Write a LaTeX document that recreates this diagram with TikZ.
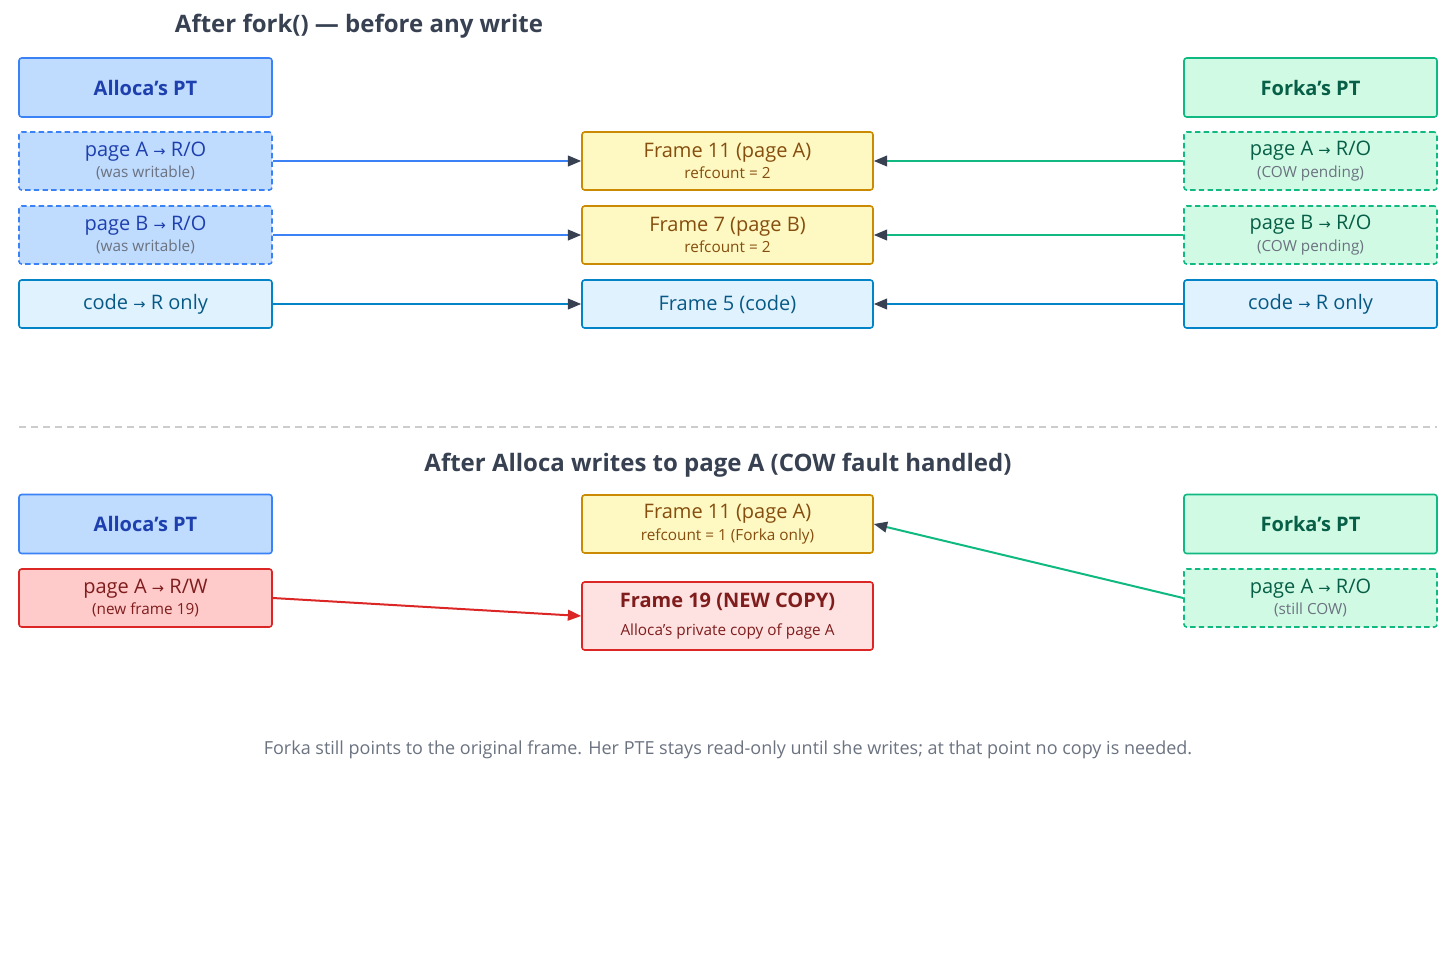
\documentclass[tikz,border=0pt]{standalone}
\usepackage{fontspec}
\setmainfont{Open Sans}
\newfontfamily\djv{DejaVu Sans}
\usetikzlibrary{arrows.meta}
\newcommand\smf{\fontsize{11.5}{13}\selectfont}
\newcommand\rar{{\djv\fontsize{11}{12}\selectfont →}}
\newcommand\ap{\char"27\relax}
\definecolor{bfill}{HTML}{BFDBFE}\definecolor{bdraw}{HTML}{3B82F6}\definecolor{btext}{HTML}{1E40AF}
\definecolor{cfill}{HTML}{E0F2FE}\definecolor{cdraw}{HTML}{0284C7}\definecolor{ctext}{HTML}{075985}
\definecolor{yfill}{HTML}{FEF9C3}\definecolor{ydraw}{HTML}{CA8A04}\definecolor{ytext}{HTML}{854D0E}
\definecolor{gfill}{HTML}{D1FAE5}\definecolor{gdraw}{HTML}{10B981}\definecolor{gtext}{HTML}{065F46}
\definecolor{rfill}{HTML}{FECACA}\definecolor{rfill2}{HTML}{FEE2E2}\definecolor{rdraw}{HTML}{DC2626}\definecolor{rtext}{HTML}{7F1D1D}
\definecolor{tip}{HTML}{374151}\definecolor{sub}{HTML}{6B7280}
\begin{document}
\begin{tikzpicture}[x=0.75pt,y=-0.75pt,
 box/.style={draw,rounded corners=2pt,line width=1.2pt,inner sep=0pt,align=center,minimum width=253*0.75pt},
 mid/.style={box,minimum width=291*0.75pt},
 hdr/.style={minimum height=59*0.75pt,font=\bfseries\fontsize{15}{18}\selectfont},
 two/.style={minimum height=58*0.75pt,font=\fontsize{15}{17}\selectfont},
 one/.style={minimum height=48*0.75pt,font=\fontsize{15}{18}\selectfont},
 bl/.style={fill=bfill,draw=bdraw,text=btext},
 cy/.style={fill=cfill,draw=cdraw,text=ctext},
 ye/.style={fill=yfill,draw=ydraw,text=ytext},
 gr/.style={fill=gfill,draw=gdraw,text=gtext},
 re/.style={fill=rfill,draw=rdraw,text=rtext},
 dsh/.style={dash pattern=on 4pt off 2.5pt},
 ar/.style={line width=1.5pt}]
\useasboundingbox (0,0) rectangle (1456,971);
\node[font=\bfseries\fontsize{18}{20}\selectfont,text=tip] (t1) at (359,26) {After fork() — before any write};
\node[box,hdr,bl] (aPT) at (145.5,87.5) {Alloca\ap s PT};
\node[box,two,bl,dsh] (aA) at (145.5,161) {page A \rar{} R/O\\[-1pt]{\smf\color{sub}(was writable)}};
\node[box,two,bl,dsh] (aB) at (145.5,235) {page B \rar{} R/O\\[-1pt]{\smf\color{sub}(was writable)}};
\node[box,one,cy] (aC) at (145.5,304) {code \rar{} R only};
\node[mid,two,ye] (f11) at (727.5,161) {Frame 11 (page A)\\[-1pt]{\smf refcount = 2}};
\node[mid,two,ye] (f7) at (727.5,235) {Frame 7 (page B)\\[-1pt]{\smf refcount = 2}};
\node[mid,one,cy] (f5) at (727.5,304) {Frame 5 (code)};
\node[box,hdr,gr] (fPT) at (1310.5,87.5) {Forka\ap s PT};
\node[box,two,gr,dsh] (fA) at (1310.5,161) {page A \rar{} R/O\\[-1pt]{\smf\color{sub}(COW pending)}};
\node[box,two,gr,dsh] (fB) at (1310.5,235) {page B \rar{} R/O\\[-1pt]{\smf\color{sub}(COW pending)}};
\node[box,one,cy] (fC) at (1310.5,304) {code \rar{} R only};
\draw[ar,draw=bdraw,-{Triangle[length=10pt,width=8pt,fill=tip,color=tip]}] (aA) -- (f11);
\draw[ar,draw=bdraw,-{Triangle[length=10pt,width=8pt,fill=tip,color=tip]}] (aB) -- (f7);
\draw[ar,draw=cdraw,-{Triangle[length=10pt,width=8pt,fill=tip,color=tip]}] (aC) -- (f5);
\draw[ar,draw=gdraw,-{Triangle[length=10pt,width=8pt,fill=tip,color=tip]}] (fA) -- (f11);
\draw[ar,draw=gdraw,-{Triangle[length=10pt,width=8pt,fill=tip,color=tip]}] (fB) -- (f7);
\draw[ar,draw=cdraw,-{Triangle[length=10pt,width=8pt,fill=tip,color=tip]}] (fC) -- (f5);
\coordinate (s1) at (19,427); \coordinate (s2) at (1437,427);
\draw[gray!40,line width=1pt,dash pattern=on 5pt off 4pt] (s1) -- (s2);
\node[font=\bfseries\fontsize{18}{20}\selectfont,text=tip] (t2) at (718,465) {After Alloca writes to page A (COW fault handled)};
\node[box,hdr,bl] (aPT2) at (145.5,524) {Alloca\ap s PT};
\node[box,two,re] (aA2) at (145.5,598) {page A \rar{} R/W\\[-1pt]{\smf(new frame 19)}};
\node[mid,two,ye] (f112) at (727.5,524) {Frame 11 (page A)\\[-1pt]{\smf refcount = 1 (Forka only)}};
\node[mid,minimum height=68*0.75pt,fill=rfill2,draw=rdraw,text=rtext,font=\fontsize{15}{18}\selectfont] (f19) at (727.5,616) {\textbf{Frame 19 (NEW COPY)}\\[3pt]{\smf Alloca\ap s private copy of page A}};
\node[box,hdr,gr] (fPT2) at (1310.5,524) {Forka\ap s PT};
\node[box,two,gr,dsh] (fA2) at (1310.5,598) {page A \rar{} R/O\\[-1pt]{\smf\color{sub}(still COW)}};
\draw[ar,draw=rdraw,-{Triangle[length=10pt,width=8pt,fill=rdraw,color=rdraw]}] (aA2.east) -- (f19.west);
\draw[ar,draw=gdraw,-{Triangle[length=10pt,width=8pt,fill=tip,color=tip]}] (fA2.west) -- (f112.east);
\node[text=sub,font=\fontsize{13.5}{16}\selectfont] (foot) at (728,750) {Forka still points to the original frame. Her PTE stays read-only until she writes; at that point no copy is needed.};
\end{tikzpicture}
\end{document}
